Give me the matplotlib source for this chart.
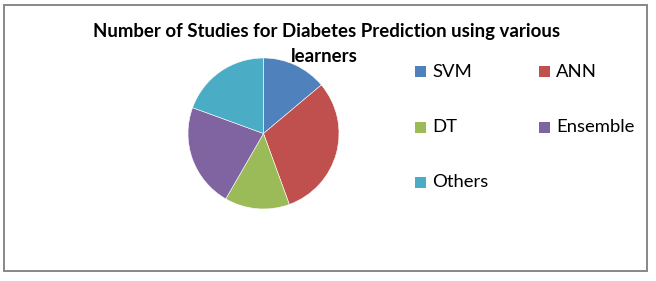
import matplotlib
matplotlib.use("Agg")
import matplotlib.pyplot as plt
from matplotlib.patches import Rectangle

labels = ["SVM", "ANN", "DT", "Ensemble", "Others"]
studies = [5, 11, 5, 8, 7]
colors = ["#4F81BD", "#C0504D", "#9BBB59", "#8064A2", "#4BACC6"]
title_lines = ["Number of Studies for Diabetes Prediction using various", "learners"]

W, H = 656, 281
fig = plt.figure(figsize=(W / 100, H / 100), dpi=100)
fig.patch.set_facecolor("white")

def fx(px):
    return px / W

def fy(py):
    return 1 - py / H

# outer frame
fig.patches.append(Rectangle((fx(3.5), fy(271)), fx(647) - fx(3.5), fy(4.5) - fy(271),
                             transform=fig.transFigure, fill=False,
                             edgecolor="#878787", linewidth=1.4))

# pie
cx, cy, r = 263.5, 133.5, 75.5
ax = fig.add_axes([fx(cx - r), fy(cy + r), 2 * r / W, 2 * r / H])
ax.pie(studies, colors=colors, startangle=90, counterclock=False, radius=1,
       wedgeprops=dict(edgecolor="white", linewidth=0.4))
ax.set_xlim(-1, 1)
ax.set_ylim(-1, 1)
ax.set_aspect("auto")
ax.axis("off")

# title
fig.text(fx(327), fy(32), title_lines[0], ha="center", va="center",
         fontsize=13.4, fontweight="bold", family="Lato")
fig.text(fx(324), fy(56), title_lines[1], ha="center", va="center",
         fontsize=13.4, fontweight="bold", family="Lato")

# legend
for i, lab in enumerate(labels):
    col, row = i % 2, i // 2
    x0 = 415 if col == 0 else 539
    y0 = 72 + 55 * row
    fig.patches.append(Rectangle((fx(x0), fy(y0 + 5.5)), 11 / W, 11 / H,
                                 transform=fig.transFigure, facecolor=colors[i],
                                 edgecolor="none"))
    fig.text(fx(x0 + 17), fy(y0), lab, ha="left", va="center",
             fontsize=13.3, family="Lato")

fig.savefig("out.png", dpi=100)
